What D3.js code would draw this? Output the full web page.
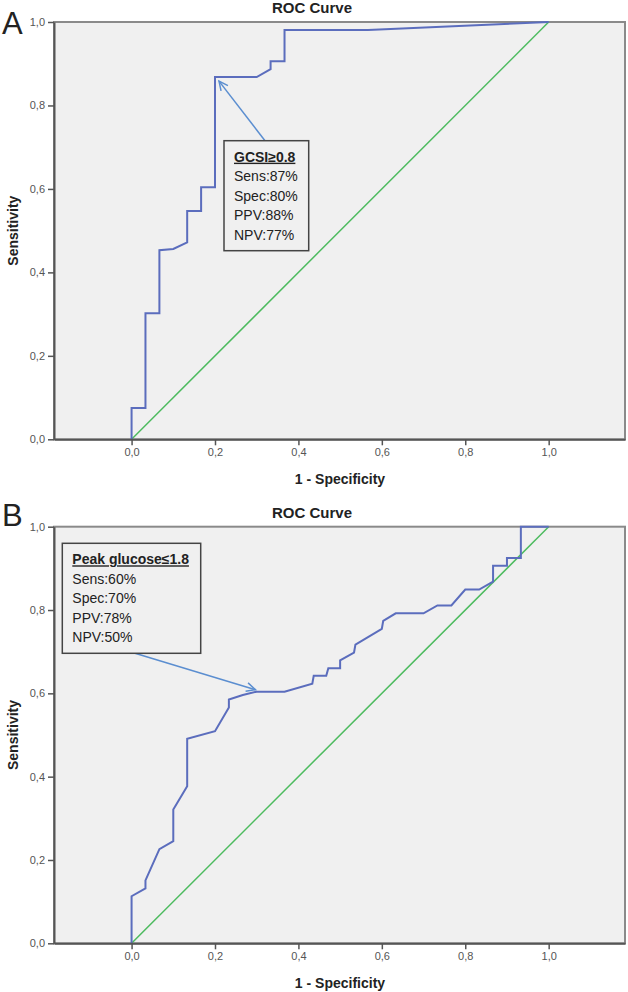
<!DOCTYPE html>
<html>
<head>
<meta charset="utf-8">
<script src="https://cdn.jsdelivr.net/npm/d3@7"></script>
<style>
  body { margin: 0; background: #fff; }
  svg { display: block; }
</style>
</head>
<body>
<svg id="chart" width="628" height="992"></svg>
<script>
// ---------- DATA ----------
const tickValues = [0, 0.2, 0.4, 0.6, 0.8, 1.0];

const rocA_fpr = [0, 0, 0.0333, 0.0333, 0.0667, 0.0667, 0.1, 0.1333, 0.1333, 0.1667, 0.1667, 0.2, 0.2, 0.3, 0.3333, 0.3333, 0.3667, 0.3667, 0.5667, 1.0];
const rocA_tpr = [0, 0.075, 0.075, 0.302, 0.302, 0.453, 0.456, 0.472, 0.547, 0.547, 0.604, 0.604, 0.868, 0.868, 0.887, 0.906, 0.906, 0.981, 0.981, 1.0];

const rocB_fpr = [0, 0, 0.0333, 0.0333, 0.0667, 0.1, 0.1, 0.1333, 0.1333, 0.2, 0.2333, 0.2333, 0.2667, 0.3, 0.3667, 0.4333, 0.4367, 0.4667, 0.4717, 0.5, 0.5, 0.5333, 0.5367, 0.6, 0.6033, 0.6333, 0.7, 0.7333, 0.7667, 0.8, 0.8333, 0.8667, 0.8667, 0.9, 0.9, 0.9333, 0.9333, 1.0];
const rocB_tpr = [0, 0.113, 0.132, 0.151, 0.226, 0.245, 0.321, 0.377, 0.491, 0.509, 0.566, 0.585, 0.596, 0.604, 0.604, 0.623, 0.642, 0.642, 0.660, 0.660, 0.679, 0.698, 0.717, 0.755, 0.774, 0.792, 0.792, 0.811, 0.811, 0.849, 0.849, 0.868, 0.906, 0.906, 0.925, 0.925, 1.0, 1.0];

const refLine = [0, 1];

const panelLetters = ["A", "B"];
const chartTitle = "ROC Curve";
const xLabel = "1 - Specificity";
const yLabel = "Sensitivity";

const annA_title = "GCSI≥0.8";
const annA_lines = ["Sens:87%", "Spec:80%", "PPV:88%", "NPV:77%"];
const annA_point = [0.2, 0.868];

const annB_title = "Peak glucose≤1.8";
const annB_lines = ["Sens:60%", "Spec:70%", "PPV:78%", "NPV:50%"];
const annB_point = [0.297, 0.604];

// ---------- DRAWING ----------
const svg = d3.select("#chart");
const fmt = d => d3.format(".1f")(d).replace(".", ",");

const x = d3.scaleLinear().domain([-0.186, 1.183]).range([54, 625]);

function panel(cfg) {
  const y = d3.scaleLinear().domain([0, 1]).range([cfg.bottom, cfg.top]);
  const g = svg.append("g");

  // plot background
  g.append("rect")
    .attr("x", x.range()[0]).attr("y", y(1))
    .attr("width", x.range()[1] - x.range()[0])
    .attr("height", y(0) - y(1))
    .attr("fill", "#f0f0f0")
    .attr("stroke", "#8a8a8a").attr("stroke-width", 2);

  // reference diagonal
  g.append("line")
    .attr("x1", x(refLine[0])).attr("y1", y(refLine[0]))
    .attr("x2", x(refLine[1])).attr("y2", y(refLine[1]))
    .attr("stroke", "#4dbb5f").attr("stroke-width", 1.5);

  // ROC curve
  const pts = cfg.fpr.map((f, i) => [f, cfg.tpr[i]]);
  g.append("path")
    .datum(pts)
    .attr("d", d3.line().x(d => x(d[0])).y(d => y(d[1])))
    .attr("fill", "none")
    .attr("stroke", "#5b6dbd").attr("stroke-width", 2);

  // axes
  const xAxis = g.append("g")
    .attr("transform", `translate(0,${y(0)})`)
    .call(d3.axisBottom(x).tickValues(tickValues).tickFormat(fmt).tickSize(6).tickSizeOuter(0));
  const yAxis = g.append("g")
    .attr("transform", `translate(${x.range()[0]},0)`)
    .call(d3.axisLeft(y).tickValues(tickValues).tickFormat(fmt).tickSize(6).tickSizeOuter(0));
  [xAxis, yAxis].forEach(a => {
    a.select(".domain").attr("stroke", "#555").attr("stroke-width", 2);
    a.selectAll(".tick line").attr("stroke", "#555").attr("stroke-width", 1.5);
    a.selectAll(".tick text")
      .attr("fill", "#555")
      .style("font-family", "'Liberation Sans', Arial, sans-serif")
      .style("font-size", "11px");
  });

  // title
  g.append("text")
    .attr("x", 312).attr("y", cfg.top - 9)
    .attr("text-anchor", "middle")
    .style("font-family", "'Liberation Sans', Arial, sans-serif")
    .style("font-weight", "bold").style("font-size", "15px")
    .attr("fill", "#222")
    .text(chartTitle);

  // x label
  g.append("text")
    .attr("x", 340).attr("y", y(0) + 45)
    .attr("text-anchor", "middle")
    .style("font-family", "'Liberation Sans', Arial, sans-serif")
    .style("font-weight", "bold").style("font-size", "14px")
    .attr("fill", "#222")
    .text(xLabel);

  // y label
  g.append("text")
    .attr("transform", `translate(18,${(y(0) + y(1)) / 2}) rotate(-90)`)
    .attr("text-anchor", "middle")
    .style("font-family", "'Liberation Sans', Arial, sans-serif")
    .style("font-weight", "bold").style("font-size", "14px")
    .attr("fill", "#222")
    .text(yLabel);

  // panel letter
  g.append("text")
    .attr("x", 2).attr("y", cfg.letterY)
    .style("font-family", "'Liberation Sans', Arial, sans-serif")
    .style("font-size", "31px")
    .attr("fill", "#222")
    .text(cfg.letter);

  // arrow
  const tip = [x(cfg.annPoint[0]) + cfg.tipOffset[0], y(cfg.annPoint[1]) + cfg.tipOffset[1]];
  const start = cfg.arrowStart;
  const ang = Math.atan2(tip[1] - start[1], tip[0] - start[0]);
  const hl = 10, ha = Math.PI / 7;
  g.append("line")
    .attr("x1", start[0]).attr("y1", start[1])
    .attr("x2", tip[0]).attr("y2", tip[1])
    .attr("stroke", "#5b8ed0").attr("stroke-width", 1.5);
  g.append("path")
    .attr("d", `M${tip[0] - hl * Math.cos(ang - ha)},${tip[1] - hl * Math.sin(ang - ha)}L${tip[0]},${tip[1]}L${tip[0] - hl * Math.cos(ang + ha)},${tip[1] - hl * Math.sin(ang + ha)}`)
    .attr("fill", "none")
    .attr("stroke", "#5b8ed0").attr("stroke-width", 1.5);

  // annotation box
  const b = cfg.box;
  g.append("rect")
    .attr("x", b[0]).attr("y", b[1]).attr("width", b[2]).attr("height", b[3])
    .attr("fill", "#f0f0f0").attr("stroke", "#444").attr("stroke-width", 1.5);
  const tx = b[0] + 10;
  const t0 = b[1] + 21;
  const title = g.append("text")
    .attr("x", tx).attr("y", t0)
    .style("font-family", "'Liberation Sans', Arial, sans-serif")
    .style("font-size", "14px").style("font-weight", "bold")
    .style("text-decoration", "underline")
    .attr("fill", "#222")
    .text(cfg.annTitle);
  cfg.annLines.forEach((s, i) => {
    g.append("text")
      .attr("x", tx).attr("y", t0 + 19.5 * (i + 1))
      .style("font-family", "'Liberation Sans', Arial, sans-serif")
      .style("font-size", "14px")
      .attr("fill", "#222")
      .text(s);
  });
}

panel({
  top: 22, bottom: 439.3, letter: panelLetters[0], letterY: 34,
  fpr: rocA_fpr, tpr: rocA_tpr,
  annPoint: annA_point, tipOffset: [4, 4], arrowStart: [265, 140.7],
  box: [224, 140.7, 84.7, 110], annTitle: annA_title, annLines: annA_lines
});
panel({
  top: 526.7, bottom: 943.3, letter: panelLetters[1], letterY: 526,
  fpr: rocB_fpr, tpr: rocB_tpr,
  annPoint: annB_point, tipOffset: [0, -2], arrowStart: [131.7, 652.3],
  box: [62.3, 543.3, 138.4, 110], annTitle: annB_title, annLines: annB_lines
});
</script>
</body>
</html>
